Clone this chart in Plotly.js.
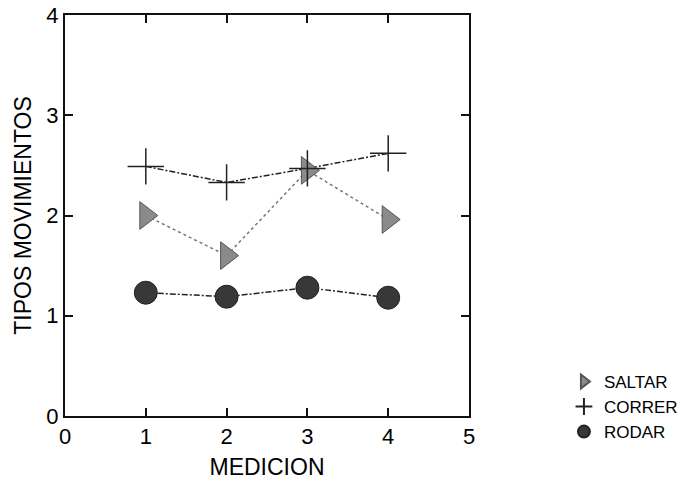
<!DOCTYPE html>
<html>
<head>
<meta charset="utf-8">
<script src="https://cdn.plot.ly/plotly-3.0.1.min.js"></script>
<style>html,body{margin:0;padding:0;background:#fff;}#chart{width:695px;height:484px;}</style>
</head>
<body>
<div id="chart"></div>
<script>
const medicion = [1, 2, 3, 4];
const seriesNames = ["SALTAR", "CORRER", "RODAR"];
const saltar = [2.0, 1.6, 2.45, 1.96];
const correr = [2.49, 2.33, 2.47, 2.62];
const rodar = [1.23, 1.19, 1.28, 1.18];
const xTicks = [0, 1, 2, 3, 4, 5];
const yTicks = [0, 1, 2, 3, 4];

const FONT = "Liberation Sans, Arial, Helvetica, sans-serif";

const lineTrace = (y, color, dash) => ({
  x: medicion, y: y, mode: "lines", showlegend: false, hoverinfo: "skip",
  line: {color: color, width: 1.5, dash: dash}
});
const markerTrace = (name, y, marker) => ({
  x: medicion, y: y, mode: "markers", name: name, marker: marker
});

const data = [
  lineTrace(saltar, "#777", "dot"),
  lineTrace(correr, "#222", "6px,2px,2px,2px"),
  lineTrace(rodar, "#222", "6px,2px,2px,2px"),
  markerTrace(seriesNames[0], saltar, {symbol: "triangle-right", size: 24, color: "#8a8a8a", line: {color: "#555", width: 1}}),
  markerTrace(seriesNames[1], correr, {symbol: "cross-thin", size: 26, color: "#222", line: {color: "#222", width: 1.5}}),
  markerTrace(seriesNames[2], rodar, {symbol: "circle", size: 23, color: "#383838", line: {color: "#222", width: 1}})
];

const axisCommon = {
  showline: true, linecolor: "#111", linewidth: 2, mirror: "ticks",
  ticks: "inside", ticklen: 8, tickwidth: 2, tickcolor: "#111",
  showgrid: false, zeroline: false,
  tickfont: {family: FONT, size: 22, color: "#000"}
};

const layout = {
  width: 695, height: 484,
  margin: {l: 65, r: 226, t: 15, b: 68},
  paper_bgcolor: "#fff", plot_bgcolor: "#fff",
  font: {family: FONT, color: "#000"},
  xaxis: Object.assign({}, axisCommon, {
    range: [0, 5], tickvals: xTicks, ticktext: xTicks.map(String),
    title: {text: "MEDICION", font: {family: FONT, size: 23, color: "#000"}, standoff: 10}
  }),
  yaxis: Object.assign({}, axisCommon, {
    range: [0, 4], tickvals: yTicks, ticktext: yTicks.map(String),
    title: {text: "TIPOS MOVIMIENTOS", font: {family: FONT, size: 23, color: "#000"}, standoff: 8}
  }),
  legend: {
    x: 1.235, xanchor: "left", y: 0.13, yanchor: "top",
    font: {family: FONT, size: 17, color: "#000"},
    itemsizing: "constant", bgcolor: "rgba(0,0,0,0)"
  },
  showlegend: true
};

Plotly.newPlot("chart", data, layout, {displayModeBar: false, staticPlot: true});
</script>
</body>
</html>
